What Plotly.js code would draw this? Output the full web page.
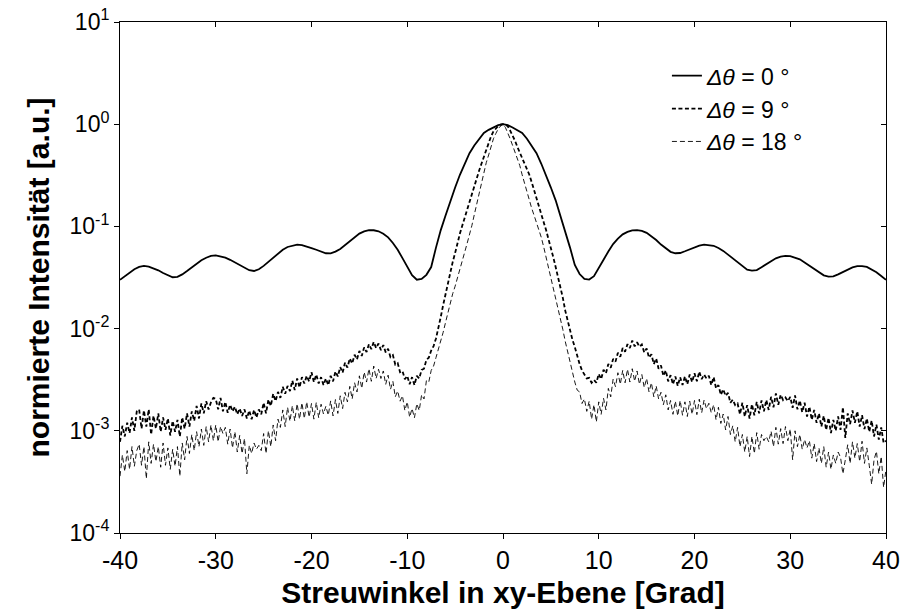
<!DOCTYPE html>
<html><head><meta charset="utf-8">
<script src="https://cdn.plot.ly/plotly-3.0.1.min.js"></script>
<style>html,body{margin:0;padding:0;background:#fff}</style>
</head><body><div id="chart" style="width:902px;height:612px"></div>
<script>
// Angle grids (degrees)
const solidStart = -40, solidStep = 0.5;   // 0° curve sampling
const noisyStart = -40, noisyStep = 0.25;  // 9° and 18° curve sampling

// Δθ = 0° normalised intensity (step 0.5° from -40 to 40)
const int0 = [
0.0300,0.0326, 0.0352,0.0381, 0.0401,0.0410, 0.0404,0.0391, 0.0372,0.0350,
0.0331,0.0318, 0.0321,0.0339, 0.0366,0.0396, 0.0431,0.0466, 0.0494,0.0514,
0.0521,0.0511, 0.0494,0.0471, 0.0444,0.0419, 0.0394,0.0373, 0.0366,0.0381,
0.0411,0.0449, 0.0496,0.0544, 0.0591,0.0629, 0.0651,0.0663, 0.0655,0.0637,
0.0614,0.0591, 0.0566,0.0546, 0.0544,0.0566, 0.0601,0.0654, 0.0721,0.0789,
0.0851,0.0894, 0.0921,0.0917, 0.0896,0.0849, 0.0781,0.0689, 0.0591,0.0489,
0.0401,0.0334, 0.0301,0.0306, 0.0336,0.0400, 0.0620,0.0920, 0.128,0.180,
0.240,0.320, 0.410,0.520, 0.620,0.720, 0.820,0.880, 0.930,0.980,
1.000,0.980, 0.930,0.880, 0.820,0.720, 0.620,0.520, 0.410,0.320,
0.240,0.180, 0.128,0.092, 0.062,0.042, 0.0342,0.0306, 0.0302,0.0326,
0.0386,0.0471, 0.0569,0.0671, 0.0759,0.0836, 0.0884,0.0916, 0.0921,0.0904,
0.0866,0.0804, 0.0736,0.0664, 0.0606,0.0564, 0.0546,0.0549, 0.0571,0.0599,
0.0629,0.0649, 0.0663,0.0659, 0.0646,0.0614, 0.0576,0.0529, 0.0486,0.0439,
0.0406,0.0377, 0.0369,0.0374, 0.0399,0.0427, 0.0461,0.0487, 0.0506,0.0514,
0.0513,0.0497, 0.0476,0.0444, 0.0413,0.0379, 0.0353,0.0332, 0.0323,0.0324,
0.0339,0.0357, 0.0381,0.0397, 0.0409,0.0409, 0.0401,0.0379, 0.0356,0.0327,
0.0300];

// Δθ = 9° normalised intensity in units of 1e-3 (step 0.25° from -40 to 40)
const int9milli = [
0.78,1.12,0.88,1.20, 0.95,1.35,1.00,1.55, 1.62,1.05,1.58,1.10, 1.62,0.92,1.40,1.05,
1.48,0.98,1.35,1.02, 1.32,0.90,1.25,0.98, 1.28,0.88,1.35,1.05, 1.48,1.10,1.55,1.25,
1.75,1.32,1.85,1.48, 1.95,1.62,1.90,2.10, 2.05,1.62,2.10,1.55, 1.92,1.50,1.80,1.55,
1.72,1.45,1.65,1.40, 1.62,1.32,1.58,1.30, 1.60,1.35,1.62,1.45, 1.88,1.48,2.02,1.75,
2.30,1.95,2.40,2.10, 2.70,2.30,2.75,2.45, 3.10,2.50,3.25,2.65, 3.35,2.90,3.45,3.05,
3.75,3.00,3.55,2.90, 3.35,2.80,3.25,2.80, 3.45,3.05,3.80,3.40, 4.20,3.70,4.65,4.15,
5.10,4.55,5.55,5.00, 6.05,5.40,6.55,5.90, 7.05,6.30,7.40,6.45, 7.15,6.15,6.90,5.85,
6.35,5.25,5.50,4.45, 4.60,3.75,3.85,3.20, 3.45,2.85,3.35,2.80, 3.45,3.25,3.95,4.05,
4.95,5.20,6.10,6.75, 8.0,10.0,13.0,17.0, 22,28,35,45, 55,70,85,102,
122,148,178,212, 250,295,350,410, 480,570,670,760, 850,910,960,990,
1000,990,955,865, 780,690,600,530, 460,410,370,320, 270,228,190,158,
130,110,92,76, 62,50,40,32, 25,20,15,12, 9.5,7.8,6.6,5.4,
4.5,3.9,3.5,3.25, 3.30,2.95,3.15,2.95, 3.60,3.20,3.95,3.65, 4.50,4.15,5.05,4.75,
5.80,5.30,6.45,5.95, 7.05,6.45,7.65,6.70, 7.35,6.65,7.00,5.85, 6.40,5.20,5.60,4.50,
5.10,4.05,4.35,3.45, 3.90,3.05,3.50,2.85, 3.40,2.75,3.35,2.80, 3.40,2.85,3.55,3.00,
3.65,3.05,3.80,3.20, 3.55,3.25,3.45,2.80, 3.35,2.60,2.80,2.25, 2.55,2.20,2.35,1.88,
2.02,1.78,1.85,1.45, 1.88,1.38,1.78,1.32, 1.82,1.42,1.92,1.48, 1.98,1.55,2.00,1.60,
2.15,1.70,2.32,1.80, 2.25,2.00,2.12,1.95, 2.15,1.68,2.22,1.62, 1.98,1.52,1.88,1.38,
1.72,1.28,1.60,1.20, 1.48,1.10,1.40,1.02, 1.34,0.95,1.28,1.00, 1.38,1.02,1.70,0.85,
1.48,1.16,1.58,1.20, 1.55,1.10,1.42,1.04, 1.32,0.98,1.26,0.88, 1.15,0.82,1.08,0.76,
0.80];

// Δθ = 18° normalised intensity in units of 1e-3 (step 0.25° from -40 to 40)
const int18milli = [
0.36,0.58,0.40,0.64, 0.42,0.70,0.45,0.64, 0.74,0.46,0.70,0.34, 0.78,0.48,0.74,0.50,
0.70,0.44,0.76,0.46, 0.68,0.42,0.66,0.45, 0.70,0.36,0.76,0.52, 0.88,0.60,0.92,0.64,
0.98,0.70,1.04,0.72, 1.10,0.78,1.14,0.80, 1.14,0.78,1.10,0.94, 1.08,0.74,1.04,0.68,
0.98,0.62,0.90,0.60, 0.84,0.38,0.72,0.60, 0.76,0.66,0.72,0.64, 0.94,0.60,1.00,0.70,
1.14,0.80,1.30,1.08, 1.60,1.10,1.70,1.24, 1.76,1.25,1.84,1.30, 1.88,1.32,1.92,1.36,
1.85,1.30,1.90,1.34, 1.82,1.46,1.74,1.42, 1.96,1.40,2.02,1.48, 2.20,1.65,2.38,1.92,
2.72,2.05,2.95,2.40, 3.45,2.60,3.75,3.00, 4.05,3.05,4.30,3.25, 4.00,3.25,3.85,2.85,
3.50,2.55,3.05,2.15, 2.45,1.95,2.20,1.58, 1.92,1.36,1.65,1.34, 1.84,1.58,2.25,2.05,
3.10,3.00,3.90,4.30, 5.2,6.2,7.3,9.2, 11.5,14.5,18.0,22.0, 26,32,38,46,
56,68,82,102, 130,165,210,275, 350,420,500,610, 720,810,900,960,
1000,930,830,720, 620,530,450,395, 320,262,210,178, 150,128,110,95,
78,63,50,41, 33,26,21,16, 12.5,9.8,7.5,5.9, 4.6,3.7,3.0,2.5,
2.40,1.85,2.05,1.55, 1.95,1.30,1.80,1.22, 1.92,1.45,2.08,1.60, 2.60,2.15,3.20,2.70,
3.70,2.85,3.90,2.95, 4.00,3.00,4.05,3.05, 3.85,2.85,3.55,2.65, 3.25,2.40,2.95,2.15,
2.75,2.05,2.38,1.80, 2.25,1.60,1.98,1.45, 1.95,1.40,1.98,1.42, 1.92,1.38,1.95,1.45,
1.98,1.44,2.04,1.50, 2.00,1.65,1.86,1.50, 1.80,1.28,1.70,1.18, 1.46,1.02,1.38,0.92,
1.12,0.78,1.08,0.70, 0.92,0.62,0.88,0.56, 0.88,0.60,0.96,0.66, 0.92,0.80,0.88,0.78,
0.99,0.70,1.08,0.74, 1.05,0.75,1.10,0.80, 1.04,0.52,1.00,0.70, 0.92,0.66,0.82,0.68,
0.80,0.54,0.75,0.50, 0.68,0.48,0.70,0.44, 0.62,0.42,0.58,0.48, 0.62,0.55,0.38,0.52,
0.73,0.48,0.78,0.54, 0.75,0.50,0.79,0.48, 0.68,0.46,0.30,0.52, 0.63,0.38,0.56,0.28,
0.42];

const xTicks = [-40,-30,-20,-10,0,10,20,30,40];
const xTickText = ['-40','-30','-20','-10','0','10','20','30','40'];
const yTicks = [1e-4,1e-3,1e-2,1e-1,1,10];
const yTickText = ['10<sup>-4</sup>','10<sup>-3</sup>','10<sup>-2</sup>','10<sup>-1</sup>','10<sup>0</sup>','10<sup>1</sup>'];
const seriesNames = ['<i>Δθ</i> = 0 °','<i>Δθ</i> = 9 °','<i>Δθ</i> = 18 °'];

const x0 = int0.map((_, i) => solidStart + i * solidStep);
const xn = int9milli.map((_, i) => noisyStart + i * noisyStep);

const FONT = 'Arial, "Liberation Sans", Helvetica, sans-serif';

const traces = [
  {x: x0, y: int0, name: seriesNames[0], type: 'scatter', mode: 'lines',
   line: {color: '#000', width: 1.8}},
  {x: xn, y: int9milli.map(v => v / 1000), name: seriesNames[1], type: 'scatter', mode: 'lines',
   line: {color: '#000', width: 1.8, dash: '4px,2.5px'}},
  {x: xn, y: int18milli.map(v => v / 1000), name: seriesNames[2], type: 'scatter', mode: 'lines',
   line: {color: '#000', width: 0.9, dash: '5px,3px'}},
  {x: [], y: [], xaxis: 'x2', yaxis: 'y2', showlegend: false, hoverinfo: 'skip', type: 'scatter'}
];

const axCommon = {showgrid: false, zeroline: false, showline: true, linecolor: '#000', linewidth: 1,
  tickcolor: '#000', ticklen: 5, tickwidth: 1};

const layout = {
  width: 902, height: 612,
  margin: {l: 120, r: 16, t: 22, b: 79, pad: 0},
  paper_bgcolor: '#fff', plot_bgcolor: '#fff',
  font: {family: FONT, color: '#000'},
  showlegend: true,
  legend: {x: 0.714, y: 0.937, xanchor: 'left', yanchor: 'top', bgcolor: 'rgba(0,0,0,0)',
    font: {family: FONT, size: 23, color: '#000'}, tracegroupgap: 0, itemwidth: 30},
  xaxis: Object.assign({}, axCommon, {range: [-40, 40], tickmode: 'array', tickvals: xTicks, ticktext: xTickText,
    ticks: 'outside', tickfont: {family: FONT, size: 25, color: '#000'},
    title: {text: '<b>Streuwinkel in xy-Ebene [Grad]</b>', font: {family: FONT, size: 30, color: '#000'}, standoff: 8}}),
  yaxis: Object.assign({}, axCommon, {type: 'log', range: [-4, 1], tickmode: 'array', tickvals: yTicks, ticktext: yTickText,
    ticks: 'outside', tickfont: {family: FONT, size: 23, color: '#000'},
    title: {text: '<b>normierte Intensität [a.u.]</b>', font: {family: FONT, size: 30, color: '#000'}, standoff: 10}}),
  xaxis2: Object.assign({}, axCommon, {overlaying: 'x', side: 'top', range: [-40, 40], tickmode: 'array',
    tickvals: xTicks, ticks: 'inside', showticklabels: false}),
  yaxis2: Object.assign({}, axCommon, {overlaying: 'y', side: 'right', type: 'log', range: [-4, 1], tickmode: 'array',
    tickvals: yTicks, ticks: 'inside', showticklabels: false})
};

Plotly.newPlot('chart', traces, layout, {staticPlot: true, displayModeBar: false});
</script>
</body></html>
